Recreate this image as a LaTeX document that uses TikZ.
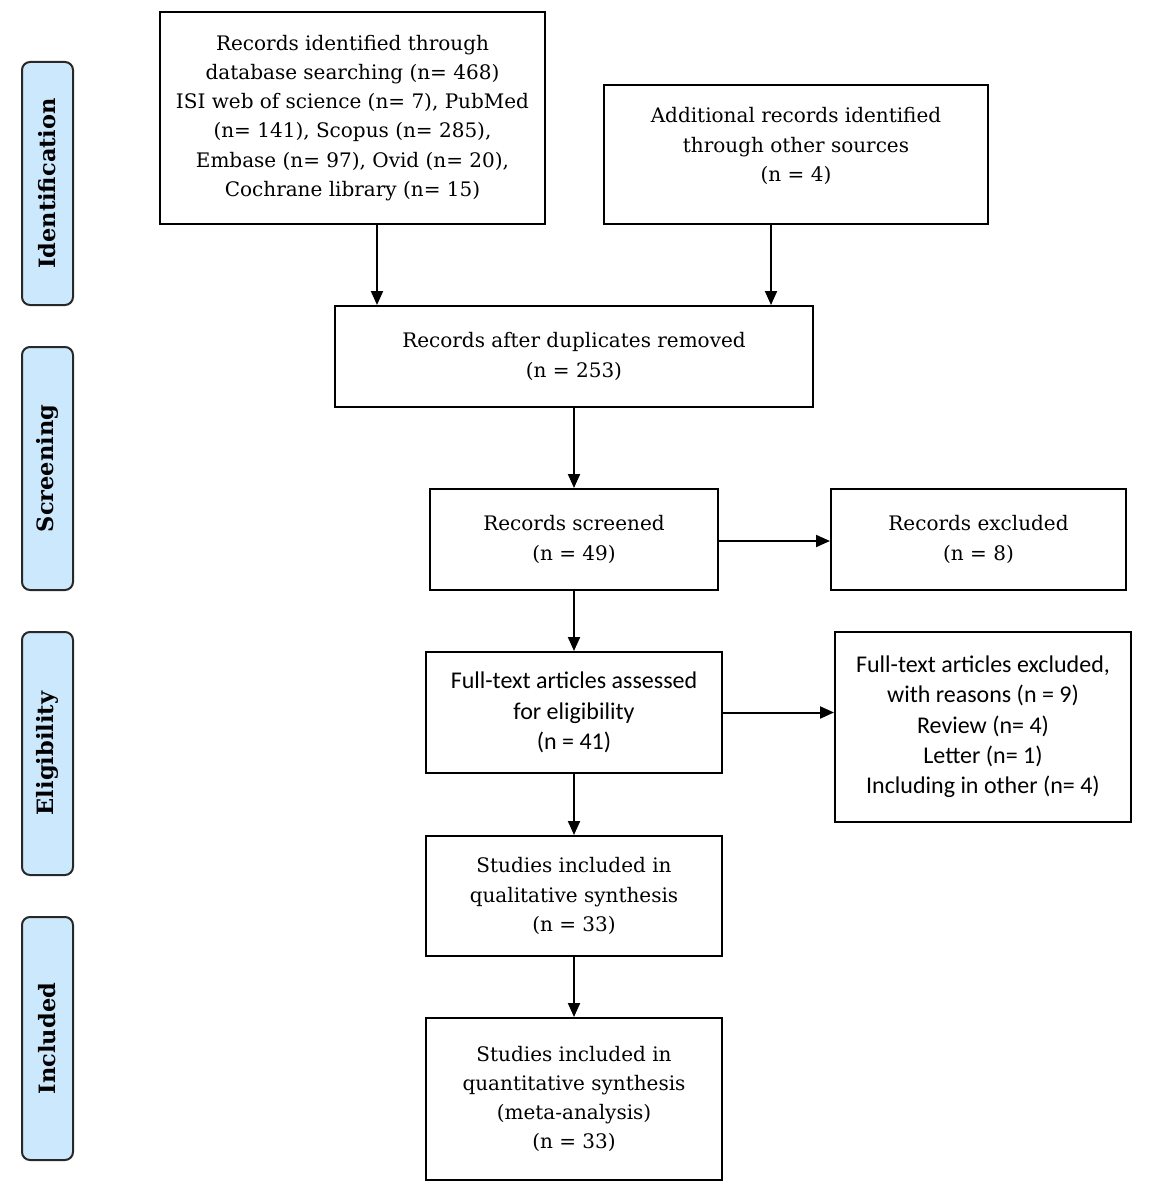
\documentclass[tikz,border=0pt]{standalone}
\usepackage{fontspec}
\setmainfont{DejaVu Serif}
\newfontfamily\calfont{Carlito}
\usetikzlibrary{arrows.meta,calc}
\definecolor{sidefill}{RGB}{204,232,252}
\definecolor{sideline}{RGB}{40,40,40}
\tikzset{
  box/.style={draw=black, line width=2pt, fill=white, align=center, inner sep=0pt,
    font=\fontsize{20}{29.2}\selectfont},
  calbox/.style={box, font=\calfont\fontsize{24}{30.3}\selectfont},
  side/.style={draw=sideline, line width=2pt, fill=sidefill, rounded corners=8pt,
    rotate=90, minimum width=243pt, minimum height=51pt, inner sep=0pt,
    font=\bfseries\fontsize{22.5}{25}\selectfont},
  arr/.style={line width=2pt, -{Triangle[length=14pt,width=12pt]}}
}
\begin{document}
\begin{tikzpicture}[x=1pt,y=-1pt]
\useasboundingbox (0,0) rectangle (1150,1188);
% side labels
\node[side] (s1) at (47.5,183.5) {Identification};
\node[side] (s2) at (47.5,468.5) {Screening};
\node[side] (s3) at (47.5,753.5) {Eligibility};
\node[side] (s4) at (47.5,1038.5) {Included};
% boxes
\node[box, minimum width=385pt, minimum height=212pt] (A) at (352.5,118)
  {Records identified through\\ database searching (n= 468)\\ ISI web of science (n= 7), PubMed\\ (n= 141), Scopus (n= 285),\\ Embase (n= 97), Ovid (n= 20),\\ Cochrane library (n= 15)};
\node[box, minimum width=384pt, minimum height=139pt, text depth=20pt] (B) at (796,154.5)
  {Additional records identified\\ through other sources\\ (n = 4)};
\node[box, minimum width=478pt, minimum height=101pt] (C) at (574,356.5)
  {Records after duplicates removed\\ (n = 253)};
\node[box, minimum width=288pt, minimum height=101pt] (D) at (574,539.5)
  {Records screened\\ (n = 49)};
\node[box, minimum width=295pt, minimum height=101pt] (E) at (978.5,539.5)
  {Records excluded\\ (n = 8)};
\node[calbox, minimum width=296pt, minimum height=121pt] (F) at (574,712.5)
  {Full-text articles assessed\\ for eligibility\\ (n = 41)};
\node[calbox, minimum width=296pt, minimum height=190pt] (G) at (983,727)
  {Full-text articles excluded,\\ with reasons (n = 9)\\ Review (n= 4)\\ Letter (n= 1)\\ Including in other (n= 4)};
\node[box, minimum width=296pt, minimum height=120pt] (H) at (574,896)
  {Studies included in\\ qualitative synthesis\\ (n = 33)};
\node[box, minimum width=296pt, minimum height=162pt] (I) at (574,1099)
  {Studies included in\\ quantitative synthesis\\ (meta-analysis)\\ (n = 33)};
% connectors
\draw[arr] ([xshift=24.5pt]A.south) -- ([xshift=24.5pt]A.south |- C.north);
\draw[arr] ([xshift=-25pt]B.south) -- ([xshift=-25pt]B.south |- C.north);
\draw[arr] (C.south) -- (D.north);
\draw[arr] ([yshift=-1.5pt]D.east) -- ([yshift=-1.5pt]D.east -| E.west);
\draw[arr] (D.south) -- (F.north);
\draw[arr] (F.east) -- (F.east -| G.west);
\draw[arr] (F.south) -- (H.north);
\draw[arr] (H.south) -- (I.north);
\end{tikzpicture}
\end{document}
